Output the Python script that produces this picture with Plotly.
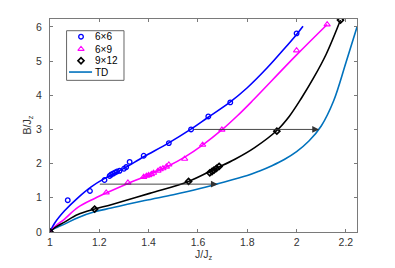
import plotly.graph_objects as go

# ---------------- data ----------------
# 6x6 fit line and data points
blue_line_x = [1.0, 1.018, 1.059, 1.113, 1.167, 1.22, 1.26, 1.30, 1.38, 1.48, 1.57, 1.64, 1.73, 1.80, 1.878, 1.95, 2.0, 2.026]
blue_line_y = [0.0, 0.25, 0.62, 1.0, 1.32, 1.56, 1.71, 1.86, 2.20, 2.60, 3.0, 3.35, 3.80, 4.22, 4.78, 5.36, 5.78, 6.02]
blue_pts_x = [1.0, 1.072, 1.162, 1.221, 1.242, 1.248, 1.256, 1.264, 1.272, 1.282, 1.300, 1.309, 1.323, 1.380, 1.482, 1.572, 1.642, 1.731, 2.0]
blue_pts_y = [0.0, 0.93, 1.20, 1.52, 1.64, 1.68, 1.71, 1.74, 1.77, 1.79, 1.85, 1.90, 2.05, 2.23, 2.60, 3.0, 3.38, 3.79, 5.81]

# 6x9
mag_line_x = [1.0, 1.02, 1.059, 1.113, 1.181, 1.228, 1.316, 1.38, 1.48, 1.546, 1.62, 1.699, 1.76, 1.816, 2.0, 2.124]
mag_line_y = [0.0, 0.16, 0.38, 0.72, 0.98, 1.14, 1.42, 1.61, 1.93, 2.19, 2.55, 3.0, 3.40, 3.80, 5.18, 6.07]
mag_pts_x = [1.0, 1.228, 1.316, 1.380, 1.391, 1.400, 1.411, 1.420, 1.438, 1.447, 1.458, 1.472, 1.482, 1.546, 1.619, 1.697, 2.0, 2.124]
mag_pts_y = [0.0, 1.15, 1.44, 1.61, 1.64, 1.66, 1.69, 1.73, 1.79, 1.83, 1.86, 1.91, 1.97, 2.14, 2.55, 2.99, 5.31, 6.07]

# 9x12
blk_line_x = [1.0, 1.02, 1.059, 1.113, 1.181, 1.248, 1.404, 1.562, 1.67, 1.75, 1.83, 1.92, 1.97, 2.02, 2.07, 2.12, 2.178]
blk_line_y = [0.0, 0.13, 0.29, 0.51, 0.67, 0.80, 1.13, 1.48, 1.85, 2.13, 2.47, 2.97, 3.38, 3.92, 4.52, 5.2, 6.2]
blk_pts_x = [1.0, 1.181, 1.562, 1.648, 1.657, 1.665, 1.675, 1.686, 1.920, 2.178]
blk_pts_y = [0.0, 0.67, 1.48, 1.73, 1.77, 1.81, 1.86, 1.92, 2.95, 6.2]

# TD
td_x = [1.0, 1.01, 1.03, 1.059, 1.113, 1.181, 1.248, 1.384, 1.5, 1.608, 1.675, 1.80, 1.85, 1.90, 1.95, 2.0, 2.05, 2.10, 2.15, 2.20, 2.246]
td_y = [0.0, 0.07, 0.14, 0.23, 0.42, 0.59, 0.70, 0.92, 1.09, 1.27, 1.40, 1.65, 1.785, 1.94, 2.12, 2.35, 2.66, 3.10, 3.83, 4.95, 6.02]

# arrows (constant-B shifts)
arrow_y = [1.40, 3.0]
arrow_x0 = [1.19, 1.572]
arrow_x1 = [1.68, 2.091]

x_ticks = [1.0, 1.2, 1.4, 1.6, 1.8, 2.0, 2.2]
x_ticktext = ["1", "1.2", "1.4", "1.6", "1.8", "2", "2.2"]
y_ticks = [0, 1, 2, 3, 4, 5, 6]

legend_labels = ["6\u00d76", "6\u00d79", "9\u00d712", "TD"]

BLUE = "#0000FF"
MAG = "#FF00FF"
BLK = "#000000"
TDC = "#0072BD"
FONT = "Liberation Sans, Arial, sans-serif"

fig = go.Figure()

def line(x, y, c):
    fig.add_trace(go.Scatter(x=x, y=y, mode="lines", line=dict(color=c, width=1.6, shape="spline", smoothing=1.0),
                             showlegend=False, hoverinfo="skip"))

def pts(x, y, c, sym, size, lw, xa="x", ya="y"):
    fig.add_trace(go.Scatter(x=x, y=y, mode="markers", xaxis=xa, yaxis=ya,
                             marker=dict(symbol=sym, size=size, color=c, line=dict(color=c, width=lw)),
                             showlegend=False, hoverinfo="skip"))

line(td_x, td_y, TDC)
line(blue_line_x, blue_line_y, BLUE)
line(mag_line_x, mag_line_y, MAG)
line(blk_line_x, blk_line_y, BLK)
pts(blue_pts_x, blue_pts_y, BLUE, "circle-open", 4.6, 1.3)
pts(mag_pts_x, mag_pts_y, MAG, "triangle-up-open", 5.5, 1.1)
pts(blk_pts_x, blk_pts_y, BLK, "diamond-open", 4.6, 1.7)

# arrows
for y, x0, x1 in zip(arrow_y, arrow_x0, arrow_x1):
    fig.add_annotation(x=x1, y=y, ax=x0, ay=y, xref="x", yref="y", axref="x", ayref="y",
                       showarrow=True, arrowhead=2, arrowsize=1.5, arrowwidth=0.9, arrowcolor="#333333", text=" ")

# custom legend (paper coordinates == plot area fractions)
leg_rows = [0.917, 0.859, 0.804, 0.751]
fig.add_shape(type="rect", xref="paper", yref="paper", x0=0.054, x1=0.241, y0=0.712, y1=0.945,
              line=dict(color="#666666", width=1), fillcolor="white", layer="below")
pts([0.101], [leg_rows[0]], BLUE, "circle-open", 4.6, 1.3, "x2", "y2")
pts([0.101], [leg_rows[1]], MAG, "triangle-up-open", 5.5, 1.1, "x2", "y2")
pts([0.101], [leg_rows[2]], BLK, "diamond-open", 4.6, 1.7, "x2", "y2")
fig.add_trace(go.Scatter(x=[0.062, 0.137], y=[leg_rows[3], leg_rows[3]], xaxis="x2", yaxis="y2", mode="lines",
                         line=dict(color=TDC, width=1.6), showlegend=False, hoverinfo="skip"))
for lab, yy in zip(legend_labels, leg_rows):
    fig.add_annotation(x=0.141, y=yy, xref="paper", yref="paper", text=lab, showarrow=False,
                       xanchor="left", yanchor="middle", font=dict(size=10, color="#000000", family=FONT))

# axis titles as annotations for precise placement
fig.add_annotation(x=0.5, y=0, xref="paper", yref="paper", text="J/J<sub>z</sub>", showarrow=False,
                   xanchor="center", yanchor="top", yshift=-14, font=dict(size=10.5, color="#333333", family=FONT))
fig.add_annotation(x=0, y=0.5, xref="paper", yref="paper", text="B/J<sub>z</sub>", showarrow=False,
                   textangle=-90, xanchor="center", yanchor="middle", xshift=-23,
                   font=dict(size=10.5, color="#333333", family=FONT))

axis_common = dict(showline=True, linecolor="#7a7a7a", linewidth=1, mirror="ticks", ticks="inside",
                   ticklen=3, tickcolor="#7a7a7a", showgrid=False, zeroline=False,
                   tickfont=dict(size=10.5, color="#333333", family=FONT))

# the page body adds an 8px offset; size the figure so the plot area lands where the reference has it
fig.update_layout(
    width=387, height=260,
    margin=dict(l=42, r=38, t=11, b=36),
    paper_bgcolor="white", plot_bgcolor="white",
    showlegend=False,
    font=dict(family=FONT, color="#333333"),
    xaxis=dict(range=[1.0, 2.245], tickvals=x_ticks, ticktext=x_ticktext, **axis_common),
    yaxis=dict(range=[0, 6.23], tickvals=y_ticks, ticklabelstandoff=5, **axis_common),
    xaxis2=dict(overlaying="x", range=[0, 1], visible=False),
    yaxis2=dict(overlaying="y", range=[0, 1], visible=False),
)

fig.write_html("out.html")
